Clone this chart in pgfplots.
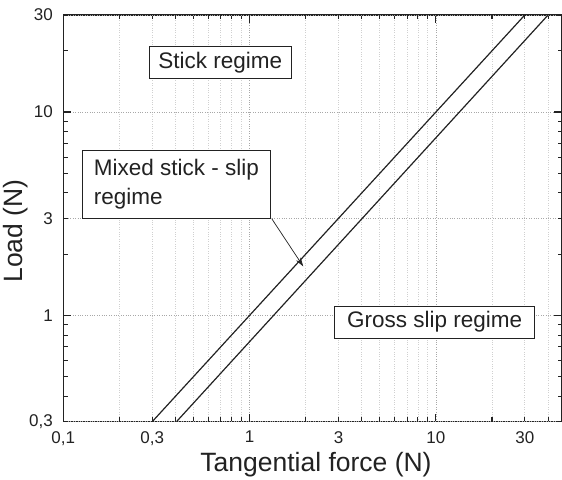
\documentclass[border=0pt]{standalone}
\usepackage{fontspec}
\setmainfont{Liberation Sans}
\usepackage{pgfplots}
\pgfplotsset{compat=1.18}
\usetikzlibrary{arrows.meta}
\definecolor{txt}{HTML}{222222}
\definecolor{gmaj}{HTML}{A8A8A8}
\definecolor{gmin}{HTML}{D0D0D0}
\begin{document}
\begin{tikzpicture}
\begin{loglogaxis}[
  scale only axis, width=498.7pt, height=406.7pt,
  xmin=0.1, xmax=47.5, ymin=0.3, ymax=30,
  axis line style={line width=1.4pt, txt},
  every tick/.style={line width=1.1pt, txt},
  tick align=inside,
  major tick length=8pt, minor tick length=4.5pt,
  xtick={0.1,1,10}, xticklabels={{0,1},1,10},
  minor xtick={0.2,0.3,0.4,0.5,0.6,0.7,0.8,0.9,2,3,4,5,6,7,8,9,20,30,40},
  extra x ticks={0.3,3,30}, extra x tick labels={{0,3},3,30},
  extra x tick style={major tick length=4.5pt, grid=none},
  ytick={1,10}, yticklabels={1,10},
  minor ytick={0.4,0.5,0.6,0.7,0.8,0.9,2,3,4,5,6,7,8,9,20},
  extra y ticks={0.3,3,30}, extra y tick labels={{0,3},3,30},
  extra y tick style={major tick length=4.5pt, grid=major},
  xmajorgrids=true, xminorgrids=true, ymajorgrids=true, yminorgrids=false,
  major grid style={dotted, gmaj, line width=0.7pt},
  minor grid style={dotted, gmin, line width=0.7pt},
  ticklabel style={font=\fontsize{17}{20}\selectfont, text=txt},
  xticklabel style={yshift=-6pt},
  yticklabel style={xshift=-7pt},
  xlabel={Tangential force (N)},
  ylabel={Load (N)},
  label style={font=\fontsize{26.5}{32}\selectfont, text=txt},
  xlabel style={at={(axis description cs:0.5067,0)}, anchor=center, yshift=-43.3pt},
  ylabel style={at={(axis description cs:0,0.469)}, anchor=center, yshift=47.3pt},
  clip=true,
]
\coordinate (ll) at (rel axis cs:0,0);
\coordinate (ur) at (rel axis cs:1,1);
\addplot[txt, line width=1.2pt] coordinates {(0.3,0.3) (30,30)};
\addplot[txt, line width=1.2pt] coordinates {(0.405,0.3) (40.0,30)};
\node[draw=txt, fill=white, line width=0.8pt, minimum width=142pt, minimum height=32.6pt, inner sep=0pt, text=txt, font=\fontsize{22.5}{27}\selectfont] at (axis cs:0.6963,17.54) {Stick regime};
\node[draw=txt, fill=white, line width=0.8pt, minimum width=188pt, minimum height=67.6pt, inner sep=0pt, align=left, text=txt, font=\fontsize{22.5}{28.5}\selectfont] at (axis cs:0.4051,4.42) {Mixed stick - slip\\regime};
\node[draw=txt, fill=white, line width=0.8pt, minimum width=200.4pt, minimum height=32.3pt, inner sep=0pt, text=txt, font=\fontsize{22.5}{27}\selectfont] at (axis cs:9.84,0.927) {Gross slip regime};
\draw[txt, line width=0.7pt, -{Stealth[length=9pt,width=5.5pt]}] (axis cs:1.314,2.99) -- (axis cs:1.941,1.74);
\end{loglogaxis}
\pgfresetboundingbox
\path[use as bounding box] ([shift={(-63.3pt,-58.3pt)}]ll) rectangle ([shift={(0pt,15pt)}]ur);
\end{tikzpicture}
\end{document}
